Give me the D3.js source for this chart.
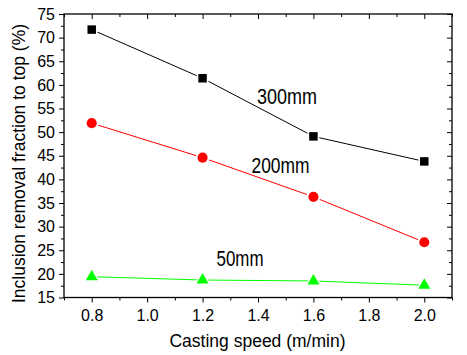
<!DOCTYPE html>
<html>
<head>
<meta charset="utf-8">
<script src="https://cdn.jsdelivr.net/npm/d3@7"></script>
<style>
  html, body { margin: 0; padding: 0; background: #fff; }
  svg { display: block; font-family: Arial, "Liberation Sans", sans-serif; }
</style>
</head>
<body>
<svg id="chart" width="467" height="355"></svg>
<script>
// Casting speed (m/min)
const speeds = [0.8, 1.2, 1.6, 2.0];
// Inclusion removal fraction to top (%) per slab thickness
const series300 = [71.7, 61.4, 49.1, 43.8];
const series200 = [51.9, 44.6, 36.3, 26.7];
const series50  = [19.4, 18.7, 18.5, 17.6];
const seriesNames = ["300mm", "200mm", "50mm"];

const xTickValues = [0.8, 1.0, 1.2, 1.4, 1.6, 1.8, 2.0];
const xMinorValues = [0.7, 0.9, 1.1, 1.3, 1.5, 1.7, 1.9, 2.1];
const yTickValues = [15, 20, 25, 30, 35, 40, 45, 50, 55, 60, 65, 70, 75];
const yMinorValues = [17.5, 22.5, 27.5, 32.5, 37.5, 42.5, 47.5, 52.5, 57.5, 62.5, 67.5, 72.5];

const xTitle = "Casting speed (m/min)";
const yTitle = "Inclusion removal fraction to top (%)";

const svg = d3.select("#chart");
const L = 64, R = 452, T = 14, B = 297.5;

const x = d3.scaleLinear().domain([0.7, 2.1]).range([L, R]);
const y = d3.scaleLinear().domain([15, 75]).range([B, T]);

const fmt = d3.format(".1f");

// axes: main axes with labels, mirrored axes with inward ticks
function styleAxis(g) {
  g.select(".domain").remove();
  g.selectAll(".tick line").attr("stroke", "#000").attr("stroke-width", 1);
  g.selectAll(".tick text").attr("fill", "#000");
}

svg.append("g").attr("transform", `translate(0,${B})`)
  .call(d3.axisBottom(x).tickValues(xTickValues).tickFormat(fmt).tickSize(5).tickPadding(7))
  .call(styleAxis)
  .call(g => g.selectAll(".tick text").attr("font-size", 16).attr("font-family", "Arial, 'Liberation Sans', sans-serif"));
svg.append("g").attr("transform", `translate(0,${B})`)
  .call(d3.axisBottom(x).tickValues(xMinorValues).tickFormat("").tickSize(3))
  .call(styleAxis);

svg.append("g").attr("transform", `translate(${L},0)`)
  .call(d3.axisLeft(y).tickValues(yTickValues).tickFormat(d3.format("d")).tickSize(5).tickPadding(4))
  .call(styleAxis)
  .call(g => g.selectAll(".tick text").attr("font-size", 16).attr("font-family", "Arial, 'Liberation Sans', sans-serif"));
svg.append("g").attr("transform", `translate(${L},0)`)
  .call(d3.axisLeft(y).tickValues(yMinorValues).tickFormat("").tickSize(3))
  .call(styleAxis);

// mirrored top / right ticks pointing into the plot
svg.append("g").attr("transform", `translate(0,${T})`)
  .call(d3.axisBottom(x).tickValues(xTickValues).tickFormat("").tickSize(5))
  .call(styleAxis);
svg.append("g").attr("transform", `translate(0,${T})`)
  .call(d3.axisBottom(x).tickValues(xMinorValues).tickFormat("").tickSize(3))
  .call(styleAxis);
svg.append("g").attr("transform", `translate(${R},0)`)
  .call(d3.axisLeft(y).tickValues(yTickValues).tickFormat("").tickSize(5))
  .call(styleAxis);
svg.append("g").attr("transform", `translate(${R},0)`)
  .call(d3.axisLeft(y).tickValues(yMinorValues).tickFormat("").tickSize(3))
  .call(styleAxis);

// frame
svg.append("rect")
  .attr("x", L).attr("y", T).attr("width", R - L).attr("height", B - T)
  .attr("fill", "none").attr("stroke", "#000").attr("stroke-width", 1.3);

// series
const series = [
  { name: seriesNames[0], values: series300, color: "#000000", shape: d3.symbolSquare, size: 72 },
  { name: seriesNames[1], values: series200, color: "#ff0000", shape: d3.symbolCircle, size: 80 },
  { name: seriesNames[2], values: series50,  color: "#00ff00", shape: d3.symbolTriangle, size: 62 }
];

const line = d3.line().x((d, i) => x(speeds[i])).y(d => y(d));

series.forEach(s => {
  svg.append("path")
    .attr("d", line(s.values))
    .attr("fill", "none")
    .attr("stroke", s.color)
    .attr("stroke-width", 1);
  const g = svg.append("g");
  // white halo leaves a small gap between the line and each marker
  g.selectAll("path.halo").data(s.values).join("path")
    .attr("class", "halo")
    .attr("transform", (d, i) => `translate(${x(speeds[i])},${y(d)})`)
    .attr("d", d3.symbol().type(s.shape).size(s.size * 1.9))
    .attr("fill", "#fff");
  g.selectAll("path.mark").data(s.values).join("path")
    .attr("class", "mark")
    .attr("transform", (d, i) => `translate(${x(speeds[i])},${y(d)})`)
    .attr("d", d3.symbol().type(s.shape).size(s.size))
    .attr("fill", s.color);
});

// series labels
const labels = [
  { text: seriesNames[0], x: 257, y: 103.5, w: 60 },
  { text: seriesNames[1], x: 251.5, y: 172.5, w: 58 },
  { text: seriesNames[2], x: 216.5, y: 266, w: 47 }
];
svg.selectAll("text.series-label").data(labels).join("text")
  .attr("class", "series-label")
  .attr("x", d => d.x).attr("y", d => d.y)
  .attr("font-size", 22.5)
  .attr("textLength", d => d.w)
  .attr("lengthAdjust", "spacingAndGlyphs")
  .attr("fill", "#000")
  .text(d => d.text);

// axis titles
svg.append("text")
  .attr("x", (168 + 347) / 2).attr("y", 347)
  .attr("text-anchor", "middle")
  .attr("font-size", 17.5)
  .attr("fill", "#000")
  .text(xTitle);

svg.append("text")
  .attr("transform", `translate(25,${(25 + 302) / 2}) rotate(-90)`)
  .attr("text-anchor", "middle")
  .attr("font-size", 17.5)
  .attr("fill", "#000")
  .text(yTitle);
</script>
</body>
</html>
